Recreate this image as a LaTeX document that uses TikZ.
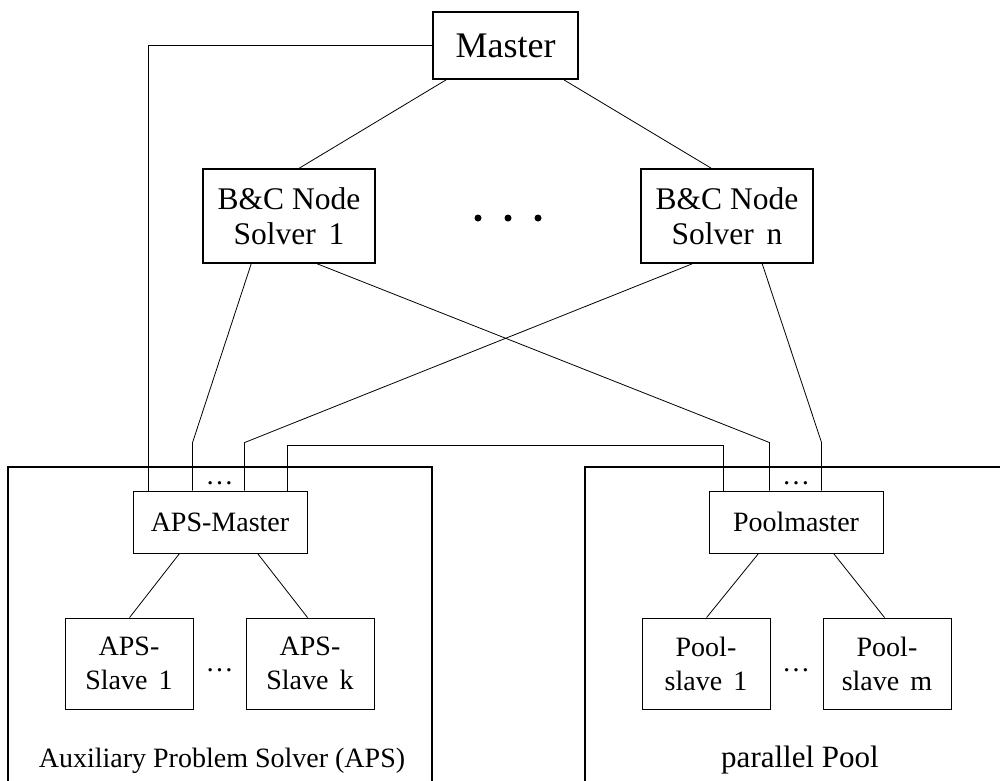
\documentclass[tikz,border=0pt]{standalone}
\usepackage{fontspec}
\setmainfont{Liberation Serif}
\usetikzlibrary{calc}
\newcommand\setfs[2]{\fontsize{#1}{#2}\selectfont}
\begin{document}
\begin{tikzpicture}[x=1pt,y=-1pt,
  wire/.style={line width=0.8pt},
  topbox/.style={draw, line width=1.6pt, inner sep=0pt, align=center},
  subbox/.style={draw, line width=0.9pt, inner sep=0pt, align=center, font=\setfs{28}{34}},
  group/.style={draw, line width=2pt},
  grouplabel/.style={anchor=base, inner sep=0pt},
  gap/.style={anchor=base, inner sep=0pt, font=\setfs{28}{34}}]
\useasboundingbox (0,0) rectangle (1000,780);

% framed groups, running off the lower and right edges
\begin{scope}
  \clip (0,0) rectangle (1000,780);
  \draw[group] (8,467) rectangle (432,830);
  \draw[group] (585,467) rectangle (1040,830);
\end{scope}

% control level
\node[topbox, minimum width=145pt, minimum height=67pt, font=\setfs{36}{40}] (master) at (505.5,45.5) {Master};
\node[topbox, minimum width=172pt, minimum height=94pt, font=\setfs{31.5}{35}] (bc1) at (289,216) {B\&C Node\\Solver\hspace{.4em}1};
\node[topbox, minimum width=172pt, minimum height=94pt, font=\setfs{31.5}{35}] (bcn) at (727,216) {B\&C Node\\Solver\hspace{.4em}n};
\foreach \x in {478,508,538} \fill (\x,218) circle (3.5pt);

% group masters
\node[subbox, minimum width=174pt, minimum height=62pt] (apsm) at (220,522) {APS-Master};
\node[subbox, minimum width=174pt, minimum height=62pt] (poolm) at (796,522) {Poolmaster};
\node[gap] (apsdots) at (219.5,484) {\ldots};
\node[gap] (pooldots) at (796,484) {\ldots};

% slaves
\node[subbox, minimum width=128pt, minimum height=91pt] (as1) at (129,663.5) {APS-\\Slave\hspace{.4em}1};
\node[subbox, minimum width=128pt, minimum height=91pt] (ask) at (310,663.5) {APS-\\Slave\hspace{.4em}k};
\node[gap] (asdots) at (219.5,671) {\ldots};
\node[subbox, minimum width=128pt, minimum height=91pt] (ps1) at (706,663.5) {Pool-\\slave\hspace{.4em}1};
\node[subbox, minimum width=128pt, minimum height=91pt] (psm) at (887,663.5) {Pool-\\slave\hspace{.4em}m};
\node[gap] (psdots) at (796,671) {\ldots};

% group labels
\node[grouplabel, font=\setfs{28}{34}] (apslabel) at (222,767) {Auxiliary Problem Solver (APS)};
\node[grouplabel, font=\setfs{31}{36}] (poollabel) at (800,767) {parallel Pool};

% master connections
\draw[wire] (master.west) -| ($(apsm.north west)+(16,0)$);
\draw[wire] ($(master.south west)+(14,0)$) -- ($(bc1.north west)+(97,0)$);
\draw[wire] ($(master.south east)+(-15,0)$) -- ($(bcn.north west)+(71,0)$);

% node solvers to the group masters
\draw[wire] ($(bc1.south west)+(49,0)$) -- ($(apsm.north west)+(60,-48)$) -- ($(apsm.north west)+(60,0)$);
\draw[wire] ($(bc1.south west)+(115,0)$) -- ($(poolm.north west)+(61,-48)$) -- ($(poolm.north west)+(61,0)$);
\draw[wire] ($(bcn.south west)+(52,0)$) -- ($(apsm.north west)+(112,-48)$) -- ($(apsm.north west)+(112,0)$);
\draw[wire] ($(bcn.south west)+(122,0)$) -- ($(poolm.north west)+(113,-48)$) -- ($(poolm.north west)+(113,0)$);

% link between the two group masters
\draw[wire] ($(apsm.north west)+(155,0)$) |- ($(poolm.north west)+(15,-45)$) -- ($(poolm.north west)+(15,0)$);

% group masters to their slaves
\draw[wire] ($(apsm.south west)+(47,0)$) -- ($(as1.north west)+(65,0)$);
\draw[wire] ($(apsm.south west)+(125,0)$) -- ($(ask.north west)+(62,0)$);
\draw[wire] ($(poolm.south west)+(50,0)$) -- ($(ps1.north west)+(65,0)$);
\draw[wire] ($(poolm.south west)+(125,0)$) -- ($(psm.north west)+(62,0)$);
\end{tikzpicture}
\end{document}
